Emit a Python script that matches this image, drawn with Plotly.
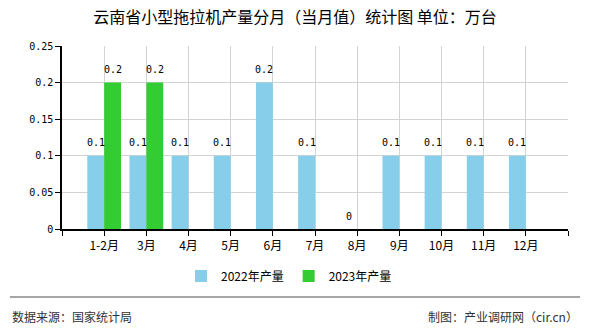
import plotly.graph_objects as go

categories = ["1-2月", "3月", "4月", "5月", "6月", "7月", "8月", "9月", "10月", "11月", "12月"]
series_2022 = [0.1, 0.1, 0.1, 0.1, 0.2, 0.1, 0, 0.1, 0.1, 0.1, 0.1]
series_2023 = [0.2, 0.2, None, None, None, None, None, None, None, None, None]
y_ticks = [0, 0.05, 0.1, 0.15, 0.2, 0.25]
y_tick_labels = ["0", "0.05", "0.1", "0.15", "0.2", "0.25"]

title_text = "云南省小型拖拉机产量分月（当月值）统计图 单位：万台"
source_text = "数据来源：国家统计局"
credit_text = "制图：产业调研网（cir.cn）"

W, H = 590, 330
L, R, T, B = 62, 22, 46, 101
plot_h = H - T - B
plot_w = W - L - R

def py(px):
    return (H - B - px) / plot_h

def pxx(px):
    return (px - L) / plot_w

xpos = list(range(1, len(categories) + 1))
mono = "DejaVu Sans Mono"
cjk = "Noto Sans CJK SC"
bar_w = 0.4

def fmt(v):
    return "0" if v == 0 else f"{v:g}"

fig = go.Figure()
series = [("2022年产量", series_2022, "#87CEEB", -bar_w), ("2023年产量", series_2023, "#33CC33", 0.0)]
for name, vals, color, off in series:
    fig.add_trace(go.Bar(
        x=xpos, y=vals, name=name, marker_color=color,
        width=bar_w, offset=off, marker_line_width=0,
    ))
    for xi, v in zip(xpos, vals):
        if v is None:
            continue
        fig.add_annotation(x=xi + off + bar_w / 2, y=v, xref="x", yref="y",
                           text=fmt(v), showarrow=False, yanchor="middle", yshift=13,
                           font=dict(family=mono, size=10, color="#000000"))

fig.update_layout(
    width=W, height=H,
    margin=dict(l=L, r=R, t=T, b=B),
    paper_bgcolor="white", plot_bgcolor="white",
    barmode="overlay",
    font=dict(family=cjk, size=12, color="#000000"),
    title=dict(text=title_text, x=0.5, xanchor="center", xref="container",
               y=1 - 17 / H, yanchor="middle", yref="container",
               font=dict(family=cjk, size=16, color="#000000")),
    showlegend=True,
    legend=dict(orientation="h", x=pxx(289), xanchor="center", y=py(276), yanchor="middle",
                font=dict(family=cjk, size=12, color="#000000"), bgcolor="rgba(0,0,0,0)"),
    xaxis=dict(
        range=[0, len(categories) + 1],
        tickmode="array",
        tickvals=[0] + xpos + [len(categories) + 1],
        ticktext=[""] + categories + [""],
        showgrid=True, gridcolor="#d3d3d3", gridwidth=1,
        showline=True, linecolor="#000000", linewidth=1.5,
        ticks="outside", ticklen=5, tickcolor="#000000",
        tickfont=dict(family=cjk, size=12, color="#000000"),
        zeroline=False,
    ),
    yaxis=dict(
        range=[0, 0.25],
        tickmode="array", tickvals=y_ticks, ticktext=y_tick_labels,
        showgrid=True, gridcolor="#d3d3d3", gridwidth=1,
        showline=True, linecolor="#000000", linewidth=1.5,
        ticks="outside", ticklen=5, tickcolor="#000000",
        tickfont=dict(family=mono, size=10, color="#000000"),
        zeroline=False,
    ),
)

fig.add_shape(type="line", xref="paper", yref="paper",
              x0=pxx(10), x1=pxx(580), y0=py(297), y1=py(297),
              line=dict(color="#888888", width=1.5))
fig.add_annotation(text=source_text, xref="paper", yref="paper", x=pxx(10), y=py(316),
                   xanchor="left", yanchor="middle", showarrow=False,
                   font=dict(family=cjk, size=12, color="#333333"))
fig.add_annotation(text=credit_text, xref="paper", yref="paper", x=pxx(580), y=py(316),
                   xanchor="right", yanchor="middle", showarrow=False,
                   font=dict(family=cjk, size=12, color="#333333"))

fig.write_html("out.html")
